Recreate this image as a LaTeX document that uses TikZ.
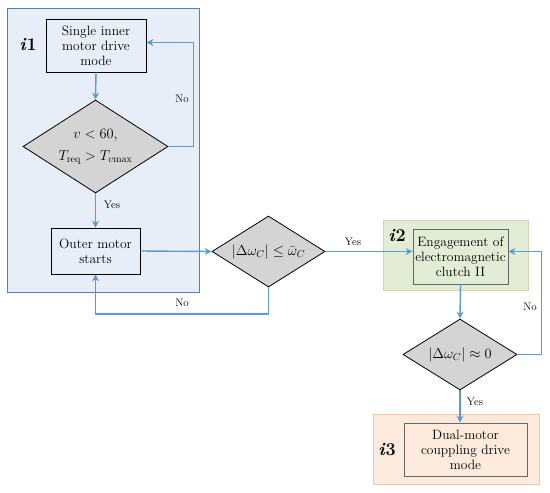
\documentclass[tikz,border=0pt]{standalone}
\usetikzlibrary{shapes.geometric,arrows.meta,calc}
\definecolor{conn}{HTML}{5B9BD5}
\definecolor{frameblue}{HTML}{4F81BD}
\definecolor{fillblue}{HTML}{E8EEF8}
\definecolor{fillgreen}{HTML}{E3EDD5}
\definecolor{drawgreen}{HTML}{C6DCAA}
\definecolor{fillorange}{HTML}{FCEADD}
\definecolor{draworange}{HTML}{F5C6A5}
\definecolor{diafill}{HTML}{D4D4D4}
\begin{document}
\begin{tikzpicture}[x=1pt,y=-1pt,
  txt/.style={font=\fontsize{13.5}{15}\selectfont, align=center},
  procbox/.style={draw=black, line width=0.8pt, rectangle, inner sep=0pt, txt},
  graybox/.style={draw=gray!80!black, line width=0.8pt, rectangle, inner sep=0pt, txt},
  decision/.style={draw=black, line width=0.8pt, diamond, fill=diafill, inner sep=0pt, align=center},
  conn/.style={draw=conn, line width=1.4pt, -{Stealth[length=7pt,width=7pt]}},
  lbl/.style={font=\fontsize{11}{13}\selectfont},
  tag/.style={font=\fontsize{18}{20}\selectfont\bfseries}
]
\useasboundingbox (0,0) rectangle (550,493);
% frames
\node[draw=frameblue, fill=fillblue, line width=1pt, rectangle, minimum width=192pt, minimum height=284pt] (f1) at (103,150) {};
\node[draw=drawgreen, fill=fillgreen, line width=1pt, rectangle, minimum width=145pt, minimum height=70pt] (f2) at (455.5,255) {};
\node[draw=draworange, fill=fillorange, line width=1pt, rectangle, minimum width=166pt, minimum height=70pt] (f3) at (456,449) {};
% tags
\node[tag] (t1) at (28,45) {\textit{i}1};
\node[tag] (t2) at (397,236) {\textit{i}2};
\node[tag] (t3) at (387,450) {\textit{i}3};
% nodes
\node[procbox, minimum width=100pt, minimum height=53pt] (b1) at (96,45.5) {Single inner\\motor drive\\mode};
\node[decision, aspect=1.56, minimum width=145pt, minimum height=93pt, font=\fontsize{14.5}{18}\selectfont] (d1) at (95.5,146.5) {$v<60,$\\[4pt]$T_{\mathrm{req}}>T_{v\mathrm{max}}$};
\node[procbox, minimum width=89pt, minimum height=46pt] (b2) at (95.5,251) {Outer motor\\starts};
\node[decision, aspect=1.59, minimum width=113pt, minimum height=71pt, font=\fontsize{14}{17}\selectfont] (d2) at (268.5,251.5) {$\left|\Delta\omega_C\right|\le\bar{\omega}_C$};
\node[graybox, minimum width=95pt, minimum height=55pt] (b3) at (460.5,256.5) {Engagement of\\electromagnetic\\clutch II};
\node[decision, aspect=1.6, minimum width=114pt, minimum height=71pt, font=\fontsize{14}{17}\selectfont] (d3) at (460,354.5) {$\left|\Delta\omega_C\right|\approx 0$};
\node[graybox, minimum width=123pt, minimum height=53pt] (b4) at (465.5,449.5) {Dual-motor\\couppling drive\\mode};
% connectors
\draw[conn] (b1.south) -- (d1.north);
\draw[conn] (d1.east) -- ++(25,0) |- ($(b1.east)+(0,-3)$);
\draw[conn] (d1.south) -- (b2.north);
\draw[conn] (b2.east) -- (d2.west);
\draw[conn] (d2.south) -- ++(0,26.5) -| (b2.south);
\draw[conn] (d2.east) -- (d2.east -| b3.west);
\draw[conn] (b3.south) -- (d3.north);
\draw[conn] (d3.east) -- ++(24,0) |- (d2.east -| b3.east);
\draw[conn] (d3.south) -- (d3.south |- b4.north);
% labels
\node[lbl] (l1) at (182,99) {No};
\node[lbl] (l2) at (112,205) {Yes};
\node[lbl] (l3) at (182,303) {No};
\node[lbl] (l4) at (353,242) {Yes};
\node[lbl] (l5) at (530,307) {No};
\node[lbl] (l6) at (475,402) {Yes};
\end{tikzpicture}
\end{document}
